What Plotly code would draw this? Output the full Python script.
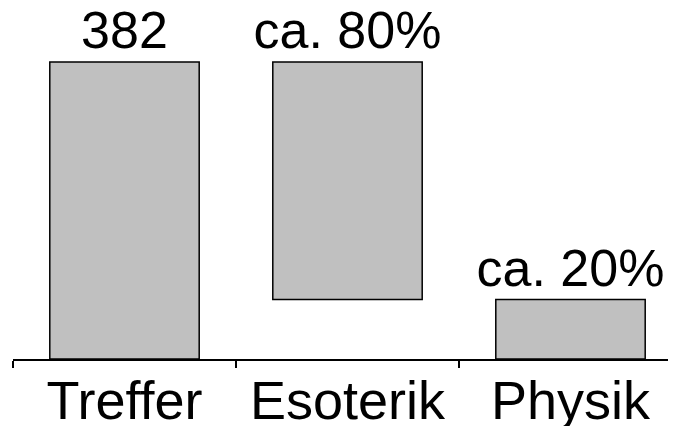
import plotly.graph_objects as go

categories = ["Treffer", "Esoterik", "Physik"]
bar_heights = [382, 305.6, 76.4]
bar_bases = [0, 76.4, 0]
bar_labels = ["382", "ca. 80%", "ca. 20%"]

fig = go.Figure(go.Bar(
    x=categories,
    y=bar_heights,
    base=bar_bases,
    width=0.67,
    text=bar_labels,
    textposition="outside",
    constraintext="none",
    cliponaxis=False,
    textfont=dict(size=52, color="black", family="Liberation Sans, Arial, sans-serif"),
    marker=dict(color="#c0c0c0", line=dict(color="black", width=1.5)),
))

fig.update_layout(
    width=676, height=426,
    margin=dict(l=5, r=0, t=0, b=75, pad=0),
    paper_bgcolor="white", plot_bgcolor="white",
    showlegend=False,
    font=dict(family="Liberation Sans, Arial, sans-serif", color="black"),
    xaxis=dict(
        type="category",
        range=[-0.5, 2.509],
        automargin=False,
        tickson="boundaries",
        ticks="outside", ticklen=7, tickwidth=1.5, tickcolor="black",
        showline=True, linecolor="black", linewidth=2,
        showgrid=False, zeroline=False,
        tickfont=dict(size=54, color="black"),
        ticklabelstandoff=-7,
    ),
    yaxis=dict(
        range=[0, 451.4],
        automargin=False,
        visible=False, showgrid=False, zeroline=False,
    ),
)

fig.write_html("out.html")
